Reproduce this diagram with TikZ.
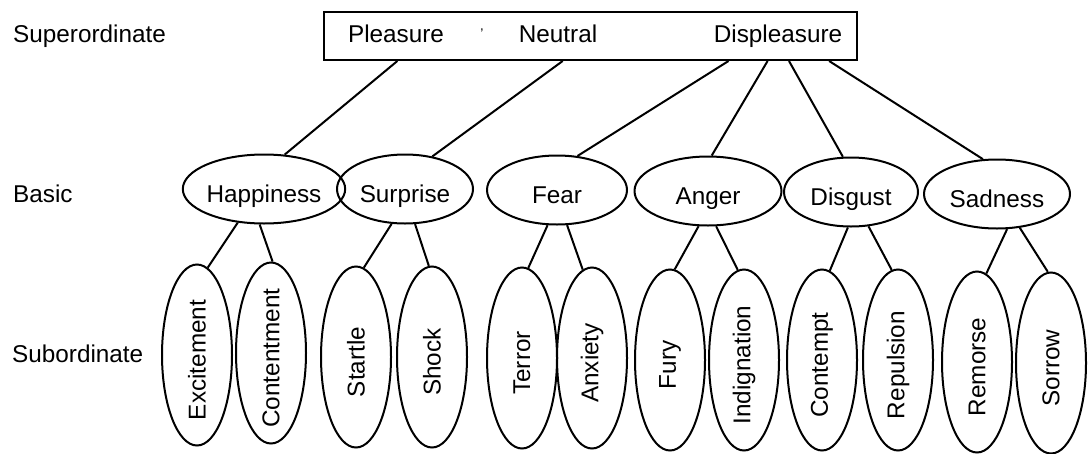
\documentclass[tikz,border=0pt]{standalone}
\usepackage{fontspec}
\setmainfont{Liberation Sans}
\usetikzlibrary{shapes.geometric,calc}
\newcommand\vtext[1]{\rotatebox{90}{\makebox[0pt]{#1\hspace{10pt}}}}
\begin{document}
\begin{tikzpicture}[x=1pt,y=-1pt,
  every node/.style={font=\fontsize{24.3}{29}\selectfont},
  basic/.style={ellipse,draw,line width=2pt,inner sep=0pt,minimum height=69pt,text height=26pt,text depth=0pt},
  sub/.style={ellipse,draw,line width=2pt,inner sep=0pt,minimum width=70pt,minimum height=181pt},
  conn/.style={line width=2pt},
  lvl/.style={anchor=base west,inner sep=0pt},
  word/.style={anchor=base,inner sep=0pt}]
\useasboundingbox (0,0) rectangle (1089,453);

% level labels
\node[lvl] (lsup) at (13,42) {Superordinate};
\node[lvl] (lbas) at (13,202) {Basic};
\node[lvl] (lsub) at (12,362) {Subordinate};

% superordinate box
\node[draw,line width=2pt,minimum width=533pt,minimum height=48pt,inner sep=0pt] (sup) at (590.5,36) {};
\node[word] (wP) at (396,42) {Pleasure};
\node[word] (wN) at (558,42) {Neutral};
\node[word] (wD) at (778,42) {Displeasure};
\node[inner sep=0pt,font=\fontsize{14}{14}\selectfont] (mark) at (482,34) {'};

\coordinate (pP) at ($(sup.south west)!0.139!(sup.south east)$);
\coordinate (pN) at ($(sup.south west)!0.448!(sup.south east)$);
\coordinate (pF) at ($(sup.south west)!0.758!(sup.south east)$);
\coordinate (pA) at ($(sup.south west)!0.831!(sup.south east)$);
\coordinate (pD) at ($(sup.south west)!0.871!(sup.south east)$);
\coordinate (pS) at ($(sup.south west)!0.946!(sup.south east)$);

% basic level
\node[basic,minimum width=140pt] (hap) at (264,189) {Happiness};
\node[basic,minimum width=136pt] (sur) at (405,189) {Surprise};
\node[basic,minimum width=140pt] (fear) at (557,190) {Fear};
\node[basic,minimum width=147pt] (ang) at (708,191) {Anger};
\node[basic,minimum width=134pt] (dis) at (851,192) {Disgust};
\node[basic,minimum width=146pt] (sad) at (997,194) {Sadness};

% subordinate level
\node[sub] (exc) at (197,355) {\vtext{Excitement}};
\node[sub] (con) at (271,353) {\vtext{Contentment}};
\node[sub] (sta) at (356,357) {\vtext{Startle}};
\node[sub] (sho) at (432,357) {\vtext{Shock}};
\node[sub] (ter) at (522,358) {\vtext{Terror}};
\node[sub] (anx) at (592,358) {\vtext{Anxiety}};
\node[sub] (fur) at (670,360) {\vtext{Fury}};
\node[sub] (ind) at (744,360) {\vtext{Indignation}};
\node[sub] (cot) at (822,360) {\vtext{Contempt}};
\node[sub] (rep) at (898,360) {\vtext{Repulsion}};
\node[sub] (rem) at (977,362) {\vtext{Remorse}};
\node[sub] (sor) at (1051,363) {\vtext{Sorrow}};

% superordinate -> basic
\draw[conn] (pP) -- (hap.59);
\draw[conn] (pN) -- (sur.50);
\draw[conn] (pF) -- (fear.59);
\draw[conn] (pA) -- (ang.84);
\draw[conn] (pD) -- (dis.103);
\draw[conn] (pS) -- (sad.112);

% basic -> subordinate
\draw[conn] (hap.232) -- (exc.83);
\draw[conn] (hap.263) -- (con.89);
\draw[conn] (sur.249) -- (sta.85);
\draw[conn] (sur.286) -- (sho.92);
\draw[conn] (fear.255) -- (ter.86);
\draw[conn] (fear.286) -- (anx.96);
\draw[conn] (ang.255) -- (fur.87);
\draw[conn] (ang.283) -- (ind.94);
\draw[conn] (dis.265) -- (cot.85);
\draw[conn] (dis.297) -- (rep.94);
\draw[conn] (sad.286) -- (rem.84);
\draw[conn] (sad.304) -- (sor.92);
\end{tikzpicture}
\end{document}
